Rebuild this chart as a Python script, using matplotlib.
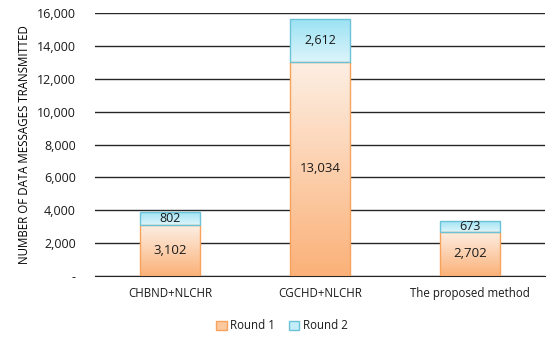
import numpy as np
import matplotlib
matplotlib.use("Agg")
import matplotlib.pyplot as plt
from matplotlib.colors import LinearSegmentedColormap
from matplotlib.patches import Rectangle
from matplotlib.ticker import FuncFormatter

categories = ["CHBND+NLCHR", "CGCHD+NLCHR", "The proposed method"]
round1 = [3102, 13034, 2702]
round2 = [802, 2612, 673]
series_names = ["Round 1", "Round 2"]
y_ticks = [0, 2000, 4000, 6000, 8000, 10000, 12000, 14000, 16000]

plt.rcParams["font.family"] = ["Open Sans", "DejaVu Sans"]
plt.rcParams["text.color"] = "#1a1a1a"

fig = plt.figure(figsize=(5.47, 3.37), dpi=100)
ax = fig.add_axes([0.174, 0.181, 0.822, 0.780])

orange_cmap = LinearSegmentedColormap.from_list("org", ["#FBB178", "#FDEFE4"])
blue_cmap = LinearSegmentedColormap.from_list("blu", ["#DDF5FB", "#9BE2F3"])

width = 0.4
x = np.arange(len(categories))


def gradient_bar(xc, bottom, height, cmap, edge):
    rect = Rectangle((xc - width / 2, bottom), width, height,
                     facecolor="none", edgecolor=edge, linewidth=1.0, zorder=4)
    ax.add_patch(rect)
    grad = np.linspace(0, 1, 256).reshape(-1, 1)
    im = ax.imshow(grad, cmap=cmap, origin="lower", aspect="auto",
                   extent=(xc - width / 2, xc + width / 2, bottom, bottom + height),
                   zorder=3)
    im.set_clip_path(rect)


for i in range(len(categories)):
    gradient_bar(x[i], 0, round1[i], orange_cmap, "#F7A35C")
    gradient_bar(x[i], round1[i], round2[i], blue_cmap, "#6CC3D8")
    ax.text(x[i], round1[i] / 2, f"{round1[i]:,}", ha="center", va="center",
            fontsize=9.5, color="#1a1a1a", zorder=5)
    ax.text(x[i], round1[i] + round2[i] / 2, f"{round2[i]:,}", ha="center",
            va="center", fontsize=9, color="#1a1a1a", zorder=5)

ax.set_xlim(-0.5, 2.5)
ax.set_ylim(0, 16000)
ax.set_yticks(y_ticks)
ax.yaxis.set_major_formatter(FuncFormatter(lambda v, p: "-" if v == 0 else f"{int(v):,}"))
ax.set_xticks(x)
ax.set_xticklabels(categories, fontsize=8.3)
ax.tick_params(axis="y", labelsize=9, length=0, pad=14, labelcolor="#1a1a1a")
ax.tick_params(axis="x", length=0, pad=8, labelcolor="#1a1a1a")
ax.grid(axis="y", color="#262626", linewidth=1.0, zorder=0)
ax.set_axisbelow(True)
for s in ["top", "right", "left"]:
    ax.spines[s].set_visible(False)
ax.spines["bottom"].set_color("#262626")

ax.set_ylabel("NUMBER OF DATA MESSAGES TRANSMITTED", fontsize=8.3, labelpad=4)

handles = [Rectangle((0, 0), 1, 1, facecolor="#FCC89E", edgecolor="#F7A35C"),
           Rectangle((0, 0), 1, 1, facecolor="#C3EDF8", edgecolor="#6CC3D8")]
fig.legend(handles, series_names, loc="center", bbox_to_anchor=(0.515, 0.033),
           ncol=2, frameon=False, fontsize=8.3, handlelength=0.9, handleheight=0.9,
           handletextpad=0.3, columnspacing=1.2)

fig.savefig("out.png", dpi=100)
